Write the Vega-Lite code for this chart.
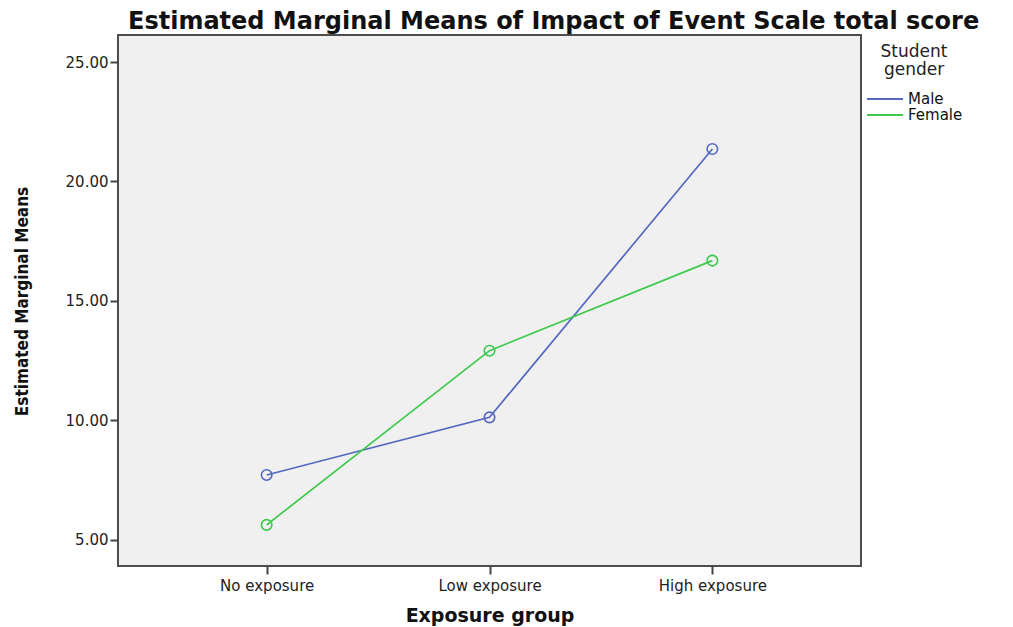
{
  "$schema": "https://vega.github.io/schema/vega-lite/v6.json",
  "width": 743,
  "height": 531,
  "autosize": "none",
  "padding": {"left": 118, "top": 35, "right": 152, "bottom": 61},
  "background": "white",
  "title": {
    "text": "Estimated Marginal Means of Impact of Event Scale total score",
    "anchor": "start",
    "frame": "group",
    "dx": 10,
    "dy": 27,
    "offset": 4,
    "baseline": "bottom",
    "font": "DejaVu Sans",
    "fontSize": 24,
    "fontWeight": "bold",
    "color": "#111111"
  },
  "config": {
    "view": {"fill": "#f0f0f0", "stroke": "#4d4d4d", "strokeWidth": 2},
    "axis": {"domain": false, "grid": false, "tickColor": "#444444", "tickWidth": 2, "labelColor": "#222222"}
  },
  "data": {
    "values": [
      {"exposure": "No exposure", "gender": "Male", "mean": 7.72},
      {"exposure": "Low exposure", "gender": "Male", "mean": 10.13},
      {"exposure": "High exposure", "gender": "Male", "mean": 21.36},
      {"exposure": "No exposure", "gender": "Female", "mean": 5.63},
      {"exposure": "Low exposure", "gender": "Female", "mean": 12.92},
      {"exposure": "High exposure", "gender": "Female", "mean": 16.69}
    ]
  },
  "encoding": {
    "x": {
      "field": "exposure",
      "type": "ordinal",
      "sort": ["No exposure", "Low exposure", "High exposure"],
      "scale": {"type": "point", "padding": 0.667},
      "axis": {
        "title": "Exposure group",
        "titleFont": "DejaVu Sans",
        "titleFontSize": 19,
        "titleFontWeight": "bold",
        "titleColor": "#111111",
        "titleY": 49,
        "titleBaseline": "middle",
        "labelFont": "DejaVu Sans",
        "labelFontSize": 15,
        "labelAngle": 0,
        "labelBaseline": "top",
        "labelPadding": 4,
        "tickSize": 8
      }
    },
    "y": {
      "field": "mean",
      "type": "quantitative",
      "scale": {"domain": [3.91, 26.13], "nice": false, "zero": false},
      "axis": {
        "values": [5, 10, 15, 20, 25],
        "format": ".2f",
        "title": "Estimated Marginal Means",
        "titleFont": "DejaVu Sans Condensed, Liberation Sans",
        "titleFontSize": 17,
        "titleFontWeight": "bold",
        "titleColor": "#111111",
        "titleAngle": 270,
        "titleX": -96,
        "titleY": 266,
        "titleAlign": "center",
        "titleBaseline": "middle",
        "labelFont": "DejaVu Sans",
        "labelFontSize": 15,
        "labelPadding": 2,
        "tickSize": 8
      }
    },
    "color": {
      "field": "gender",
      "type": "nominal",
      "scale": {"domain": ["Male", "Female"], "range": ["#5468c0", "#3dc94b"]},
      "legend": {
        "title": ["Student", "gender"],
        "orient": "none",
        "legendX": 748,
        "legendY": 9,
        "padding": 0,
        "titleFont": "DejaVu Sans",
        "titleFontSize": 17,
        "titleFontWeight": "normal",
        "titleColor": "#222222",
        "titleLineHeight": 18,
        "titleAlign": "center",
        "titleAnchor": "middle",
        "titlePadding": 12,
        "labelFont": "DejaVu Sans",
        "labelFontSize": 15,
        "labelColor": "#111111",
        "labelOffset": 4,
        "symbolType": "stroke",
        "symbolSize": 1296,
        "symbolStrokeWidth": 2,
        "clipHeight": 16,
        "rowPadding": 0
      }
    }
  },
  "layer": [
    {"mark": {"type": "line", "strokeWidth": 1.7}},
    {"mark": {"type": "point", "shape": "circle", "filled": false, "size": 110, "strokeWidth": 1.6, "opacity": 1}}
  ]
}
